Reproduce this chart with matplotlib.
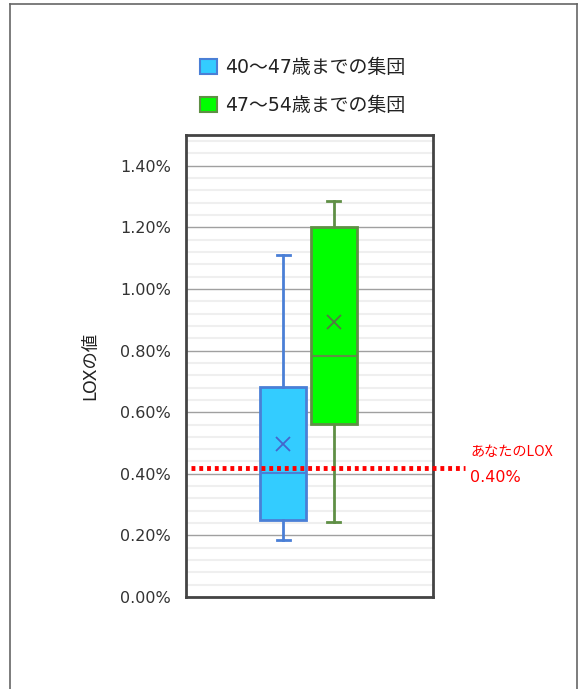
import matplotlib
matplotlib.use("Agg")
import matplotlib.pyplot as plt
from matplotlib.patches import Patch
from matplotlib.lines import Line2D
from matplotlib.ticker import MultipleLocator, FuncFormatter

FAM = ['DejaVu Sans', 'Noto Sans CJK JP']
plt.rcParams['font.family'] = FAM

# data (percent)
groups = ['40～47歳までの集団', '47～54歳までの集団']
whislo = [0.185, 0.245]
q1 = [0.251, 0.562]
med = [0.404, 0.783]
q3 = [0.683, 1.202]
whishi = [1.112, 1.285]
means = [0.498, 0.893]
your_lox = 0.418
your_label = 'あなたのLOX'
your_value_text = '0.40%'
ylabel = 'LOXの値'

fills = ['#33ccff', '#00ff00']
edges = ['#4a7fd6', '#5f8f45']
mean_colors = ['#4466cc', '#557744']

W, H = 582, 689
fig = plt.figure(figsize=(W / 100, H / 100), dpi=100)

# outer frame
for xs, ys in [([10, 10], [4, H + 5]), ([577, 577], [4, H + 5]), ([10, 577], [4, 4])]:
    fig.add_artist(Line2D([x / W for x in xs], [1 - y / H for y in ys], color='#666666', lw=1.2))

ax = fig.add_axes([186 / W, 1 - 597 / H, 247 / W, (597 - 135) / H])
ax.set_xlim(0, 1)
ax.set_ylim(0, 1.5)

ax.yaxis.set_major_locator(MultipleLocator(0.2))
ax.yaxis.set_minor_locator(MultipleLocator(0.04))
ax.yaxis.set_major_formatter(FuncFormatter(lambda v, p: f'{v:.2f}%'))
ax.grid(which='minor', axis='y', color='#efefef', lw=1.5)
ax.grid(which='major', axis='y', color='#a0a0a0', lw=1.0)
ax.set_axisbelow(True)
ax.tick_params(axis='y', which='both', length=0, labelsize=11.5, labelcolor='#333333', pad=11)
ax.set_xticks([])
for s in ax.spines.values():
    s.set_color('#444444')
    s.set_linewidth(2)

positions = [0.394, 0.598]
for i in range(2):
    stats = [dict(whislo=whislo[i], q1=q1[i], med=med[i], q3=q3[i], whishi=whishi[i], mean=means[i], fliers=[])]
    ax.bxp(stats, positions=[positions[i]], widths=0.185, patch_artist=True, showmeans=True,
           boxprops=dict(facecolor=fills[i], edgecolor=edges[i], lw=2),
           whiskerprops=dict(color=edges[i], lw=2),
           capprops=dict(color=edges[i], lw=2),
           medianprops=dict(color=edges[i], lw=1.5),
           meanprops=dict(marker='x', markeredgecolor=mean_colors[i], markersize=10, markeredgewidth=1.3),
           capwidths=0.055, manage_ticks=False)

ax.set_ylabel(ylabel, fontsize=12.5, color='#222222', labelpad=15)

# your LOX dotted line, extending beyond the axes
ax.add_artist(Line2D([(191 - 186) / 247, (465 - 186) / 247], [your_lox, your_lox],
                     color='#ff0000', lw=3.5, linestyle=(0, (0.8, 0.8)), clip_on=False, zorder=5))
fig.text(470 / W, 1 - 452 / H, your_label, color='#ff0000', fontsize=10.2, va='center', ha='left',
         family=['Noto Sans CJK JP', 'DejaVu Sans'])
fig.text(470 / W, 1 - 478 / H, your_value_text, color='#ff0000', fontsize=11.5, va='center', ha='left')

handles = [Patch(facecolor=fills[i], edgecolor=edges[i], lw=1.5) for i in range(2)]
fig.legend(handles, groups, loc='upper left', bbox_to_anchor=(200 / W, 1 - 58 / H), frameon=False,
           fontsize=13.6, handlelength=0.9, handleheight=0.9, handletextpad=0.45, labelspacing=1.0,
           borderpad=0, borderaxespad=0, labelcolor='#222222')

fig.savefig('out.png', dpi=100)
